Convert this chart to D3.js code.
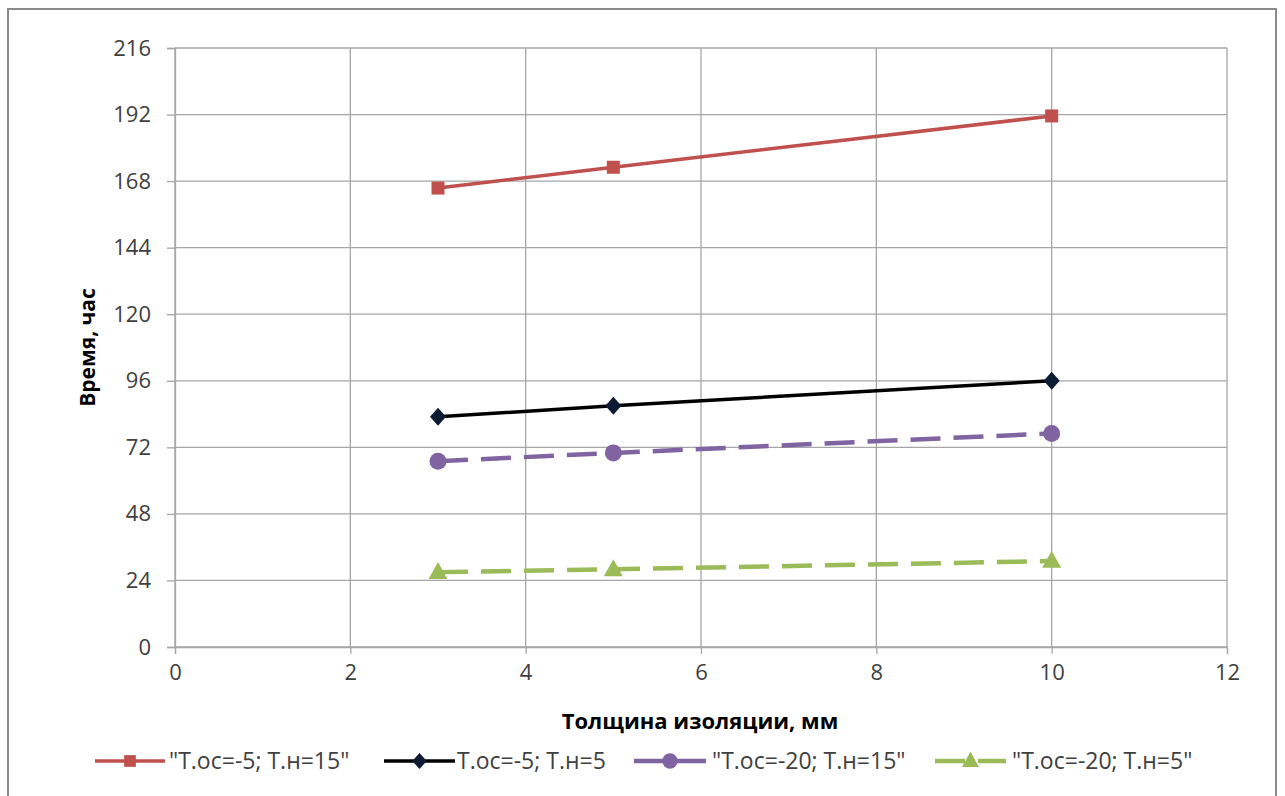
<!DOCTYPE html>
<html>
<head>
<meta charset="utf-8">
<script src="https://cdn.jsdelivr.net/npm/d3@7"></script>
<style>
  html, body { margin: 0; padding: 0; background: #fff; }
  svg { display: block; }
  text { font-family: "Open Sans", "Noto Sans", "Liberation Sans", sans-serif; }
</style>
</head>
<body>
<svg id="chart" width="1285" height="796"></svg>
<script>
// Insulation thickness, mm
const thickness = [3, 5, 10];
// Time, hours, per scenario
const seriesRed = [165.5, 173, 191.5];
const seriesBlack = [83, 87, 96];
const seriesPurple = [67, 70, 77];
const seriesGreen = [27, 28, 31];
const seriesNames = ['"Т.ос=-5; Т.н=15"', 'Т.ос=-5; Т.н=5', '"Т.ос=-20; Т.н=15"', '"Т.ос=-20; Т.н=5"'];
const xTicks = [0, 2, 4, 6, 8, 10, 12];
const yTicks = [0, 24, 48, 72, 96, 120, 144, 168, 192, 216];
const xTitle = "Толщина изоляции, мм";
const yTitle = "Время, час";

const series = [
  { name: seriesNames[0], values: seriesRed, color: "#C0504D", marker: "square", dash: null, width: 3.5 },
  { name: seriesNames[1], values: seriesBlack, color: "#000000", markerFill: "#0d1b33", marker: "diamond", dash: null, width: 3.5 },
  { name: seriesNames[2], values: seriesPurple, color: "#8064A2", marker: "circle", dash: "30,13", width: 4.5 },
  { name: seriesNames[3], values: seriesGreen, color: "#9BBB59", marker: "triangle", dash: "30,13", width: 4.5 }
];

const svg = d3.select("#chart");

// chart frame
svg.append("rect")
  .attr("x", 8).attr("y", 9).attr("width", 1268).attr("height", 800)
  .attr("fill", "#fff").attr("stroke", "#8a8a8a").attr("stroke-width", 2);

const plot = { left: 175, top: 48, right: 1227, bottom: 647 };
const x = d3.scaleLinear().domain([0, 12]).range([plot.left, plot.right]);
const y = d3.scaleLinear().domain([0, 216]).range([plot.bottom, plot.top]);

// gridlines
const grid = svg.append("g");
grid.selectAll("line.h").data(yTicks).join("line")
  .attr("x1", plot.left).attr("x2", plot.right)
  .attr("y1", d => y(d)).attr("y2", d => y(d))
  .attr("stroke", "#a6a6a6").attr("stroke-width", 1.3);
grid.selectAll("line.v").data(xTicks).join("line")
  .attr("y1", plot.top).attr("y2", plot.bottom)
  .attr("x1", d => x(d)).attr("x2", d => x(d))
  .attr("stroke", "#a6a6a6").attr("stroke-width", 1.3);

// axes
const xAxis = d3.axisBottom(x).tickValues(xTicks).tickSize(7).tickPadding(10).tickFormat(d3.format("d"));
const yAxis = d3.axisLeft(y).tickValues(yTicks).tickSize(8).tickPadding(16).tickFormat(d3.format("d"));

const gx = svg.append("g").attr("transform", `translate(0,${plot.bottom})`).call(xAxis);
const gy = svg.append("g").attr("transform", `translate(${plot.left},0)`).call(yAxis);
[gx, gy].forEach(g => {
  g.select(".domain").attr("stroke", "#a6a6a6").attr("stroke-width", 1.3);
  g.selectAll(".tick line").attr("stroke", "#a6a6a6").attr("stroke-width", 1.3);
  g.selectAll(".tick text").attr("font-size", 22).attr("fill", "#404040")
    .attr("font-family", "'Open Sans', sans-serif");
});

// axis titles
svg.append("text")
  .attr("x", 700).attr("y", 729)
  .attr("text-anchor", "middle").attr("font-size", 22).attr("font-weight", "bold")
  .style("fill", "#000")
  .text(xTitle);
svg.append("text")
  .attr("transform", `translate(95,${(plot.top + plot.bottom) / 2}) rotate(-90)`)
  .attr("text-anchor", "middle").attr("font-size", 21).attr("font-weight", "bold")
  .style("fill", "#000")
  .text(yTitle);

// marker drawing
function drawMarker(g, s, cx, cy, scale) {
  const k = scale || 1;
  const fill = s.markerFill || s.color;
  if (s.marker === "square") {
    g.append("rect").attr("x", cx - 6.5 * k).attr("y", cy - 6.5 * k)
      .attr("width", 13 * k).attr("height", 13 * k).attr("fill", fill);
  } else if (s.marker === "diamond") {
    const w = 8 * k, h = 9 * k;
    g.append("path").attr("d", `M${cx},${cy - h}L${cx + w},${cy}L${cx},${cy + h}L${cx - w},${cy}Z`)
      .attr("fill", fill);
  } else if (s.marker === "circle") {
    g.append("circle").attr("cx", cx).attr("cy", cy).attr("r", 8.5 * k).attr("fill", fill);
  } else if (s.marker === "triangle") {
    const w = 9.5 * k, h = 17 * k;
    g.append("path").attr("d", `M${cx},${cy - h * 0.6}L${cx + w},${cy + h * 0.4}L${cx - w},${cy + h * 0.4}Z`)
      .attr("fill", fill);
  }
}

// series lines and markers
const line = d3.line().x((d, i) => x(thickness[i])).y(d => y(d));
series.forEach(s => {
  const g = svg.append("g");
  g.append("path").datum(s.values)
    .attr("d", line).attr("fill", "none")
    .attr("stroke", s.color).attr("stroke-width", s.width)
    .attr("stroke-dasharray", s.dash);
  s.values.forEach((v, i) => drawMarker(g, s, x(thickness[i]), y(v)));
});

// legend
const legendY = 761;
const legendItems = [
  { x0: 95, x1: 165, tx: 169 },
  { x0: 384, x1: 455, tx: 457 },
  { x0: 634, x1: 706, tx: 712 },
  { x0: 935, x1: 1006, tx: 1012 }
];
series.forEach((s, i) => {
  const it = legendItems[i];
  const g = svg.append("g");
  g.append("line").attr("x1", it.x0).attr("x2", it.x1).attr("y1", legendY).attr("y2", legendY)
    .attr("stroke", s.color).attr("stroke-width", s.width).attr("stroke-dasharray", s.dash);
  drawMarker(g, s, (it.x0 + it.x1) / 2, legendY, 0.9);
  g.append("text").attr("x", it.tx).attr("y", legendY + 8)
    .attr("font-size", 23).style("fill", "#404040")
    .text(s.name);
});
</script>
</body>
</html>
